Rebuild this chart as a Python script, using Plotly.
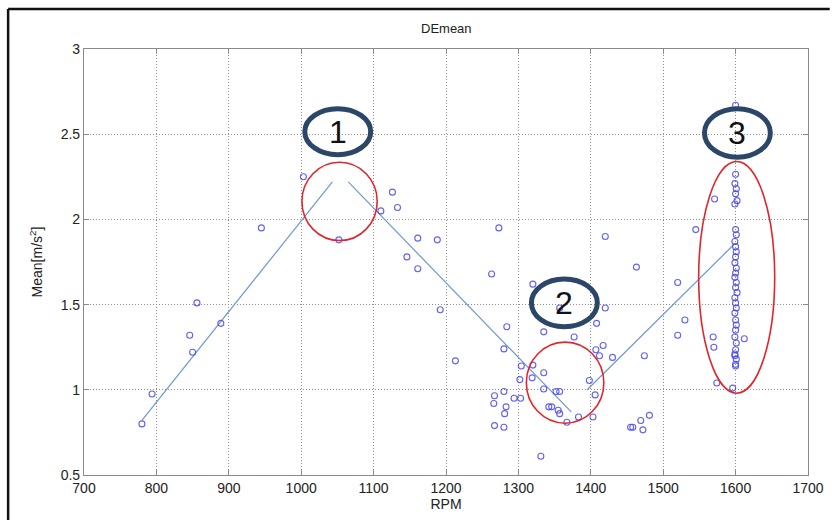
import plotly.graph_objects as go

# ---- data ----
rpm = [780, 794, 846, 850, 856, 889, 945, 1003, 1052,
       1110, 1126, 1133, 1146, 1161, 1161, 1188, 1192, 1213, 1263, 1273, 1280, 1284,
       1320, 1335, 1357, 1377, 1408, 1420, 1420, 1417, 1407, 1412, 1430, 1304, 1320,
       1335, 1302, 1319, 1335, 1352, 1357, 1398, 1406, 1280, 1267, 1294, 1303, 1266,
       1283, 1281, 1342, 1346, 1355, 1357, 1267, 1280, 1367, 1383, 1403, 1455, 1331,
       1463, 1474, 1469, 1481, 1458, 1472, 1520, 1530, 1520, 1545, 1571, 1569, 1570,
       1574, 1612, 1596,
       1600, 1600, 1599, 1601, 1600, 1602, 1599, 1600, 1601, 1599, 1600, 1601, 1600,
       1599, 1601, 1600, 1599, 1601, 1600, 1602, 1599, 1600, 1601, 1599, 1600, 1601,
       1600, 1599, 1601, 1600, 1599, 1601, 1600, 1600, 1599]
mean = [0.80, 0.975, 1.32, 1.22, 1.51, 1.39, 1.95, 2.25, 1.88,
        2.05, 2.16, 2.07, 1.78, 1.89, 1.71, 1.88, 1.47, 1.17, 1.68, 1.95, 1.24, 1.37,
        1.62, 1.34, 1.48, 1.31, 1.39, 1.48, 1.90, 1.26, 1.235, 1.20, 1.19, 1.14, 1.145,
        1.10, 1.06, 1.07, 1.005, 0.99, 0.99, 1.055, 0.97, 0.99, 0.965, 0.95, 0.95, 0.92,
        0.90, 0.86, 0.90, 0.90, 0.88, 0.86, 0.79, 0.78, 0.81, 0.84, 0.84, 0.78, 0.61,
        1.72, 1.20, 0.82, 0.85, 0.78, 0.765, 1.63, 1.41, 1.32, 1.94, 2.12, 1.31, 1.25,
        1.04, 1.30, 1.01,
        2.67, 2.265, 2.21, 2.18, 2.15, 2.11, 2.09, 1.94, 1.91, 1.87, 1.84, 1.81, 1.78,
        1.745, 1.715, 1.685, 1.66, 1.63, 1.60, 1.57, 1.54, 1.51, 1.48, 1.45, 1.41, 1.38,
        1.35, 1.31, 1.275, 1.235, 1.21, 1.18, 1.15, 1.14, 1.20]

# piecewise fit segments
seg1_x = [780, 1043]
seg1_y = [0.82, 2.22]
seg2_x = [1065, 1373]
seg2_y = [2.22, 0.87]
seg3_x = [1395, 1597]
seg3_y = [1.00, 1.85]

x_ticks = [700, 800, 900, 1000, 1100, 1200, 1300, 1400, 1500, 1600, 1700]
y_ticks = [0.5, 1, 1.5, 2, 2.5, 3]
y_tick_labels = ["0.5", "1", "1.5", "2", "2.5", "3"]

# highlighted regions (red ellipses) and numbered labels
red_regions = [(1001, 1105, 1.876, 2.335), (1311, 1418, 0.804, 1.28), (1549, 1654, 0.98, 2.34)]
label_boxes = [(1005, 1096, 2.38, 2.65, "1"), (1318, 1409, 1.37, 1.65, "2"), (1557, 1648, 2.365, 2.65, "3")]

fig = go.Figure()

for sx, sy in [(seg1_x, seg1_y), (seg2_x, seg2_y), (seg3_x, seg3_y)]:
    fig.add_trace(go.Scatter(x=sx, y=sy, mode="lines",
                             line=dict(color="#6f98cf", width=1.2),
                             showlegend=False, hoverinfo="skip"))

fig.add_trace(go.Scatter(x=rpm, y=mean, mode="markers",
                         marker=dict(symbol="circle-open", size=6,
                                     color="rgba(70,70,235,0.85)",
                                     line=dict(width=1.1)),
                         showlegend=False))

shapes = []
for x0, x1, y0, y1 in red_regions:
    shapes.append(dict(type="circle", xref="x", yref="y", x0=x0, x1=x1, y0=y0, y1=y1,
                       line=dict(color="#e0262b", width=1.6), layer="above"))
annotations = []
for x0, x1, y0, y1, t in label_boxes:
    shapes.append(dict(type="circle", xref="x", yref="y", x0=x0, x1=x1, y0=y0, y1=y1,
                       line=dict(color="#2c4668", width=5), layer="above"))
    annotations.append(dict(x=(x0 + x1) / 2, y=(y0 + y1) / 2, xref="x", yref="y",
                            text=t, showarrow=False,
                            font=dict(family="Liberation Sans, Arial", size=32, color="#111111")))

# outer figure frame (left and top edges visible)
shapes.append(dict(type="line", xref="paper", yref="paper",
                   x0=-0.1048, x1=1.03, y0=1.0939, y1=1.0939,
                   line=dict(color="#111111", width=2.5)))
shapes.append(dict(type="line", xref="paper", yref="paper",
                   x0=-0.1048, x1=-0.1048, y0=1.0939, y1=-0.12,
                   line=dict(color="#111111", width=2.5)))

annotations.append(dict(text="DEmean", xref="paper", yref="paper", x=0.5, y=1.025,
                        xanchor="center", yanchor="bottom", showarrow=False,
                        font=dict(family="Liberation Sans, Arial", size=13, color="#222222")))

axis_common = dict(showline=True, linecolor="#8a8a8a", linewidth=1.2, mirror="ticks",
                   ticks="inside", ticklen=5, tickcolor="#8a8a8a",
                   showgrid=True, gridcolor="#8f8f8f", griddash="1px,2px", gridwidth=1,
                   zeroline=False,
                   tickfont=dict(family="Liberation Sans, Arial", size=14, color="#222222"))

fig.update_layout(
    width=836, height=520,
    margin=dict(l=84, r=17, t=49, b=45),
    paper_bgcolor="white", plot_bgcolor="white",
    xaxis=dict(range=[700, 1700], tickvals=x_ticks, ticktext=[str(v) for v in x_ticks],
               title=dict(text="RPM", standoff=2,
                          font=dict(family="Liberation Sans, Arial", size=14, color="#222222")),
               **axis_common),
    yaxis=dict(range=[0.5, 3], tickvals=y_ticks, ticktext=y_tick_labels,
               title=dict(text="Mean[m/s<sup>2</sup>]", standoff=14,
                          font=dict(family="Liberation Sans, Arial", size=14, color="#222222")),
               **axis_common),
    shapes=shapes, annotations=annotations,
)

fig.write_html("out.html")
